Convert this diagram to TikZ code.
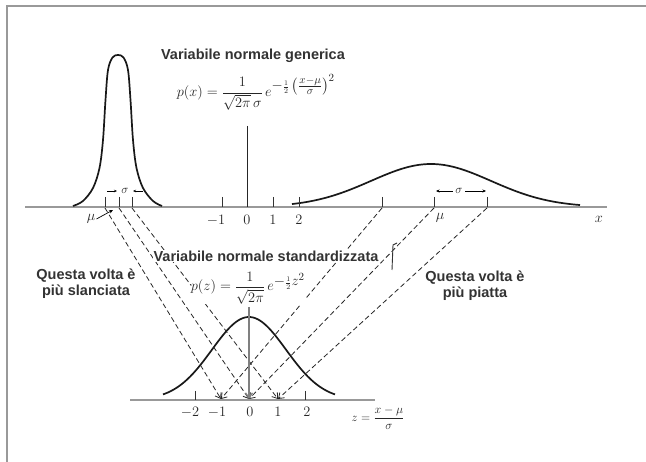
\documentclass[tikz,border=0pt]{standalone}
\usepackage{amsmath}
\usepackage{fontspec}
\setmainfont{Liberation Sans}
\usetikzlibrary{arrows.meta}
\begin{document}
\begin{tikzpicture}[x=1pt,y=-1pt,
  axisline/.style={line width=2.4pt, draw=black!40},
  curve/.style={line width=1.7pt, black!90, line join=round},
  tickmark/.style={line width=0.8pt, black!80},
  proj/.style={dash pattern=on 5pt off 3pt, line width=0.8pt, black!85, -{Straight Barb[length=5pt,width=7pt]}},
  lbl/.style={font=\fontsize{14.5}{16}\selectfont\bfseries, align=center, text=black!80, inner sep=1pt},
  num/.style={font=\fontsize{15}{17}\selectfont, inner sep=1pt, text=black!85},
  frm/.style={font=\fontsize{15}{17}\selectfont, inner sep=1pt, text=black!85},
]
\useasboundingbox (0,0) rectangle (646,462);
\fill[white] (0,0) rectangle (646,462);
\draw[line width=2pt, black!40] (7,462) -- (7,6) -- (646,6);

% upper axis
\coordinate (ua0) at (25,207);
\coordinate (ua1) at (607,207);
\draw[axisline] (ua0) -- (ua1);

% lower axis
\coordinate (la0) at (130,400);
\coordinate (la1) at (375,400);
\draw[axisline] (la0) -- (la1);

% left narrow curve
\draw[curve] plot[smooth, tension=0.55] coordinates {
 (73,206) (83,201) (93,188) (99.5,168) (103,140) (105.5,100) (108,70) (112.5,57.5) (118,55)
 (123.5,57.5) (128,70) (130.5,100) (133,140) (136.5,168) (143,188) (153,201) (162,206)};

% right flat curve
\draw[curve, domain=292:580, samples=90] plot (\x, {207-43*exp(-((\x-431)/60)*((\x-431)/60)/2)});

% lower standard curve
\draw[curve, domain=163:335, samples=70] plot (\x, {400-83*exp(-((\x-249)/37)*((\x-249)/37)/2)});

% vertical axes
\draw[line width=0.9pt, black!85] (247,126) -- (247,207);
\coordinate (Ztop) at (249,307);

% ticks upper
\foreach \t in {105,119,132,222,273,299,382,434,487}
  \draw[tickmark] (\t,197) -- (\t,207);
% ticks lower
\foreach \t in {195,305}
  \draw[tickmark] (\t,391) -- (\t,400);

% projection points
\coordinate (L1) at (105,208);
\coordinate (L2) at (119,208);
\coordinate (L3) at (132,208);
\coordinate (R1) at (382,208);
\coordinate (R2) at (434,208);
\coordinate (R3) at (487,208);
\coordinate (Zm) at (221,399);
\coordinate (Z0) at (249,399);
\coordinate (Zp) at (278,399);

\draw[proj] (L1) -- (Zm);
\draw[proj] (L2) -- (Z0);
\draw[proj] (L3) -- (Zp);
\draw[proj] (R1) -- (Zm);
\draw[proj] (R2) -- (Z0);
\draw[proj] (R3) -- (Zp);
\draw[line width=1.3pt, black!50, -{Straight Barb[length=5pt,width=7pt]}] (Ztop) -- (Z0);

% small bar near the label
\draw[line width=0.9pt, black!80] (397,243) -- (393,245) -- (392,270);

% upper axis labels
\node[num] (um1) at (216,220) {$-1$};
\node[num] (u0) at (247,220) {$0$};
\node[num] (u1) at (273,220) {$1$};
\node[num] (u2) at (299,220) {$2$};
\node[num] (xl) at (599,219) {$x$};
\node[num] (muR) at (440,218) {$\mu$};
\node[num] (muL) at (91,219) {$\mu$};
\coordinate (muTip) at (113,210);
\draw[line width=0.7pt, -{Stealth[length=4pt,width=3.5pt]}] (muL.east) -- (muTip);

% sigma markers
\node[num, font=\fontsize{12}{13}\selectfont] (sgL) at (125,191) {$\sigma$};
\coordinate (sgLa) at (107,191);
\coordinate (sgLb) at (117,191);
\coordinate (sgLc) at (143,191);
\coordinate (sgLd) at (133,191);
\draw[line width=0.6pt, -{Stealth[length=3pt,width=2.5pt]}] (sgLa) -- (sgLb);
\draw[line width=0.6pt, -{Stealth[length=3pt,width=2.5pt]}] (sgLc) -- (sgLd);
\coordinate (sgRa) at (436,191);
\coordinate (sgRb) at (486,191);
\draw[line width=0.6pt, {Stealth[length=3.5pt,width=3pt]}-{Stealth[length=3.5pt,width=3pt]}] (sgRa) -- (sgRb);
\node[num, font=\fontsize{12}{13}\selectfont, fill=white, inner sep=2pt] (sgR) at (459,191) {$\sigma$};

% lower axis labels
\node[num] (lm2) at (190,412) {$-2$};
\node[num] (lm1) at (217,412) {$-1$};
\node[num] (l0) at (250,412) {$0$};
\node[num] (l1) at (278,412) {$1$};
\node[num] (l2) at (307,412) {$2$};
\node[frm, font=\fontsize{12}{14}\selectfont] (zdef) at (378,418) {$z=\dfrac{x-\mu}{\sigma}$};

% titles and formulas
\node[lbl] (t1) at (253,56) {Variabile normale generica};
\node[frm] (f1) at (256,92) {$p(x)=\dfrac{1}{\sqrt{2\pi}\,\sigma}\,e^{\textstyle -{\scriptstyle\frac12}\left(\frac{x-\mu}{\sigma}\right)^{\scriptstyle 2}}$};
\node[lbl, fill=white, inner sep=1pt] (t2) at (266,256) {Variabile normale standardizzata};
\node[frm, fill=white, inner sep=0pt] (f2) at (248,288) {$p(z)=\dfrac{1}{\sqrt{2\pi}}\,e^{\textstyle -{\scriptstyle\frac12}z^{\scriptstyle 2}}$};
\node[lbl] (q1) at (86,284) {Questa volta è\\più slanciata};
\node[lbl] (q2) at (475,286) {Questa volta è\\più piatta};
\end{tikzpicture}
\end{document}
